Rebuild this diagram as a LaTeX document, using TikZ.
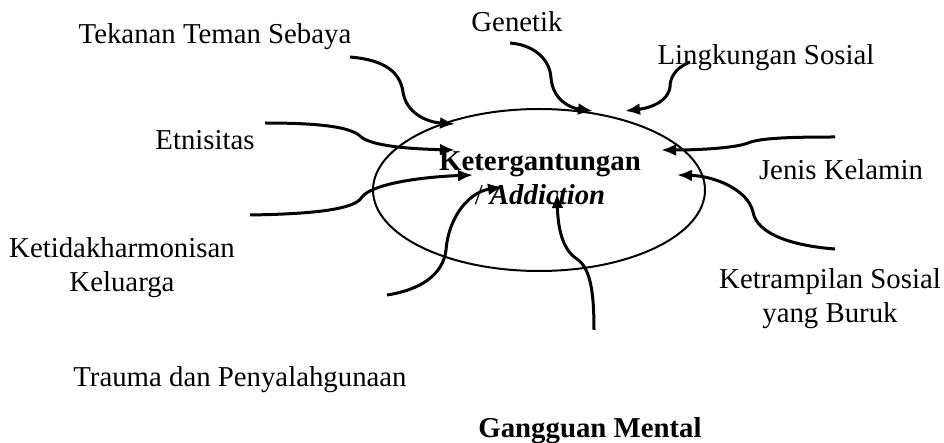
\documentclass[tikz,border=0pt]{standalone}
\usepackage{fontspec}
\setmainfont{Liberation Serif}
\usetikzlibrary{arrows.meta}
\tikzset{
	faktor/.style={font=\fontsize{14.4}{17}\selectfont, inner sep=0pt},
	panah/.style={line width=1.5pt, arrows={-Latex[length=7.5pt, width=6pt]}},
}

\begin{document}
\begin{tikzpicture}[x=0.5pt, y=-0.5pt]
	\useasboundingbox (0,0) rectangle (944,443);
	\coordinate (pusat) at (539,190);
	\draw [line width=1pt] (pusat) ellipse [x radius=166, y radius=81];
	\node [faktor, align=center] (adiksi) at (540,178) {\textbf{Ketergantungan}\\/ \textbf{\textit{Addiction}}};

	\node [faktor, anchor=base] (tekanan) at (215,44) {Tekanan Teman Sebaya};
	\node [faktor, anchor=base] (genetik) at (517,32) {Genetik};
	\node [faktor, anchor=base] (lingkungan) at (766,65) {Lingkungan Sosial};
	\node [faktor, anchor=base] (etnis) at (205,150) {Etnisitas};
	\node [faktor, anchor=base] (kelamin) at (841,180) {Jenis Kelamin};
	\node [faktor, align=center] (keluarga) at (122,268) {Ketidakharmonisan\\Keluarga};
	\node [faktor, anchor=base] (trauma) at (240,387) {Trauma dan Penyalahgunaan};
	\node [faktor, align=center] (sosial) at (830,299) {Ketrampilan Sosial\\yang Buruk};
	\node [faktor, anchor=base] (mental) at (590,438) {\textbf{Gangguan Mental}};

	\coordinate (tekanan-a) at (350,57);
	\coordinate (tekanan-b) at (455,124);
	\coordinate (etnis-a) at (265,123);
	\coordinate (etnis-b) at (455,150);
	\coordinate (keluarga-a) at (250,215);
	\coordinate (keluarga-b) at (473,175);
	\coordinate (trauma-a) at (387,295);
	\coordinate (trauma-b) at (503,187);
	\coordinate (mental-a) at (594,330);
	\coordinate (mental-b) at (557,193);
	\coordinate (genetik-a) at (510,43);
	\coordinate (genetik-b) at (593,111);
	\coordinate (lingkungan-a) at (690,62);
	\coordinate (lingkungan-b) at (625,111);
	\coordinate (kelamin-a) at (835,137);
	\coordinate (kelamin-b) at (661,150);
	\coordinate (sosial-a) at (835,249);
	\coordinate (sosial-b) at (677,175);

	\draw [panah] (tekanan-a) .. controls (385,60) and (400,72) .. (403,92) .. controls (406,112) and (425,122) .. (tekanan-b);
	\draw [panah] (etnis-a) .. controls (320,123) and (350,127) .. (360,136) .. controls (370,146) and (410,149) .. (etnis-b);
	\draw [panah] (keluarga-a) .. controls (310,214) and (355,210) .. (362,197) .. controls (372,184) and (420,177) .. (keluarga-b);
	\draw [panah] (trauma-a) .. controls (420,290) and (443,275) .. (446,250) .. controls (449,215) and (470,192) .. (trauma-b);
	\draw [panah] (mental-a) .. controls (594,290) and (590,268) .. (577,259) .. controls (563,250) and (558,230) .. (mental-b);
	\draw [panah] (genetik-a) .. controls (535,45) and (550,60) .. (551,78) .. controls (553,100) and (570,108) .. (genetik-b);
	\draw [panah] (lingkungan-a) .. controls (675,68) and (670,78) .. (670,87) .. controls (668,102) and (650,108) .. (lingkungan-b);
	\draw [panah] (kelamin-a) .. controls (790,137) and (760,138) .. (748,143) .. controls (735,148) and (700,150) .. (kelamin-b);
	\draw [panah] (sosial-a) .. controls (795,246) and (757,235) .. (753,212) .. controls (748,190) and (715,176) .. (sosial-b);
\end{tikzpicture}
\end{document}
